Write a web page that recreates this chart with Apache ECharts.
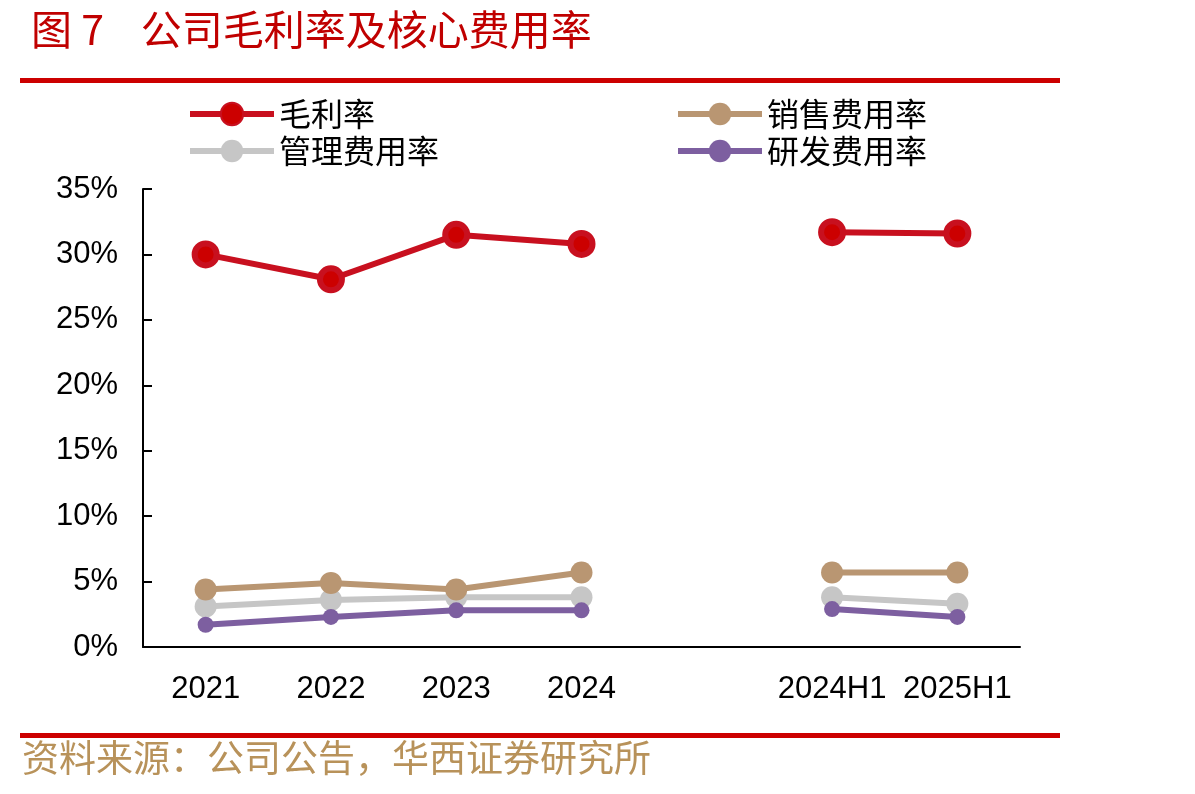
<!DOCTYPE html>
<html>
<head>
<meta charset="utf-8">
<script src="https://cdn.jsdelivr.net/npm/echarts@6/dist/echarts.min.js"></script>
<style>
  html, body { margin: 0; padding: 0; background: #fff; }
  #main { width: 1195px; height: 794px; }
</style>
</head>
<body>
<div id="main"></div>
<script>
// 数据
var categories = ['2021', '2022', '2023', '2024', '', '2024H1', '2025H1'];
var grossMargin = [30.0, 28.1, 31.5, 30.8, null, 31.7, 31.6];
var sellingRate = [4.4, 4.9, 4.4, 5.7, null, 5.7, 5.7];
var adminRate = [3.1, 3.6, 3.8, 3.8, null, 3.8, 3.3];
var rdRate = [1.7, 2.3, 2.8, 2.8, null, 2.9, 2.3];
var yTicks = [0, 5, 10, 15, 20, 25, 30, 35];

var myChart = echarts.init(document.getElementById('main'));

var cjk = '"Noto Sans CJK SC", sans-serif';
var num = '"Liberation Sans", Arial, sans-serif';

function lineSeries(name, data, color, size, inner) {
    return {
        name: name,
        type: 'line',
        data: data,
        connectNulls: false,
        symbol: 'circle',
        symbolSize: size,
        lineStyle: { color: color, width: 6 },
        itemStyle: inner ? { color: inner, borderColor: color, borderWidth: 6 } : { color: color },
        z: 3
    };
}

var option = {
    animation: false,
    backgroundColor: '#fff',
    title: {
        text: '图 7    公司毛利率及核心费用率',
        left: 26,
        top: 4,
        textStyle: { color: '#c00000', fontFamily: cjk, fontSize: 41, fontWeight: 'normal' }
    },
    graphic: [
        { type: 'rect', shape: { x: 20, y: 78, width: 1040, height: 5 }, style: { fill: '#cc0000' } },
        { type: 'rect', shape: { x: 20, y: 733, width: 1040, height: 5 }, style: { fill: '#cc0000' } },
        {
            type: 'text', left: 22, top: 739,
            style: { text: '资料来源：公司公告，华西证券研究所', fill: '#b8925a', font: '37px "Noto Sans CJK SC"' }
        }
    ],
    legend: [
        {
            left: 182, top: 93, orient: 'vertical', itemGap: 5,
            itemWidth: 84, itemHeight: 28,
            lineStyle: { width: 6 },
            data: ['毛利率', '管理费用率'],
            textStyle: { fontFamily: cjk, fontSize: 32, color: '#000' }
        },
        {
            left: 670, top: 93, orient: 'vertical', itemGap: 5,
            itemWidth: 84, itemHeight: 28,
            lineStyle: { width: 6 },
            data: ['销售费用率', '研发费用率'],
            textStyle: { fontFamily: cjk, fontSize: 32, color: '#000' }
        }
    ],
    grid: { left: 143, right: 175, top: 189, bottom: 147 },
    xAxis: {
        type: 'category',
        data: categories,
        boundaryGap: true,
        axisLine: { lineStyle: { color: '#000', width: 2 } },
        axisTick: { inside: true, length: 9, lineStyle: { color: '#000', width: 2 } },
        axisLabel: { color: '#000', fontFamily: num, fontSize: 31, margin: 27, interval: 0 }
    },
    yAxis: {
        type: 'value',
        min: yTicks[0],
        max: yTicks[yTicks.length - 1],
        interval: 5,
        axisLine: { show: true, lineStyle: { color: '#000', width: 2 } },
        axisTick: { show: true, inside: true, length: 9, lineStyle: { color: '#000', width: 2 } },
        splitLine: { show: false },
        axisLabel: { color: '#000', fontFamily: num, fontSize: 31, margin: 25, formatter: '{value}%' }
    },
    series: [
        lineSeries('毛利率', grossMargin, '#c8101f', 22, '#cc0000'),
        lineSeries('管理费用率', adminRate, '#c6c6c6', 22),
        lineSeries('销售费用率', sellingRate, '#b99672', 22),
        lineSeries('研发费用率', rdRate, '#7d5fa0', 16)
    ]
};

myChart.setOption(option);
</script>
</body>
</html>
